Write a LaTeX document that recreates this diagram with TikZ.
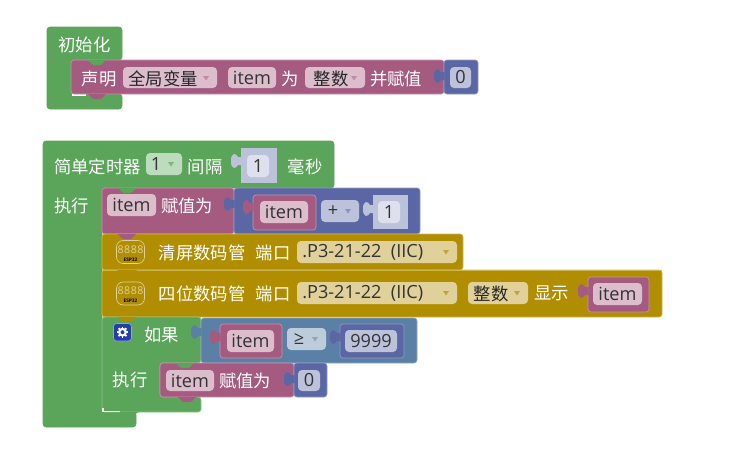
\documentclass[tikz,border=0pt]{standalone}
\usepackage{fontspec}
\setmainfont{Noto Sans CJK SC}
\newfontfamily\lat{Open Sans}
\definecolor{gr}{HTML}{5BA55B}
\definecolor{grL}{HTML}{8CC08C}
\definecolor{grF}{HTML}{BDDBBD}
\definecolor{pu}{HTML}{A55B80}
\definecolor{puL}{HTML}{C98FAC}
\definecolor{puF}{HTML}{DBBDCC}
\definecolor{bl}{HTML}{5B67A5}
\definecolor{blL}{HTML}{8F98C4}
\definecolor{blF}{HTML}{BDC2DB}
\definecolor{blG}{HTML}{DEE1ED}
\definecolor{lg}{HTML}{5B80A5}
\definecolor{lgL}{HTML}{8FA8C4}
\definecolor{lgF}{HTML}{BDCCDB}
\definecolor{go}{HTML}{B18E00}
\definecolor{goL}{HTML}{CDB54D}
\definecolor{goF}{HTML}{DFD199}
\definecolor{gearbg}{HTML}{2440A8}
\tikzset{
  x=0.75pt,y=-0.75pt,
  blk/.style={rounded corners=2.2pt},
  fldbox/.style={rounded corners=3pt},
  wt/.style={text=white,inner sep=0pt,yshift=-.6pt,font=\fontsize{13}{15}\selectfont},
  bk/.style={text=black!85,inner sep=0pt,yshift=-.6pt,font=\fontsize{13}{15}\selectfont},
  lt/.style={text=black!80,inner sep=0pt,font=\lat\fontsize{13.6}{15}\selectfont},
}
% statement notch: x, y, colour
\newcommand{\notch}[3]{\fill[#3] (#1,#2) .. controls (#1+3,#2) and (#1+4,#2+5) .. (#1+7,#2+5) -- (#1+13,#2+5) .. controls (#1+16,#2+5) and (#1+17,#2) .. (#1+20,#2) -- cycle;}
% value socket: x edge, top y, colour
\newcommand{\sock}[3]{\fill[#3] (#1+.5,#2+4) -- (#1-3,#2+4) .. controls (#1-5,#2) and (#1-10,#2-1) .. (#1-10,#2+8) .. controls (#1-10,#2+17) and (#1-5,#2+16) .. (#1-3,#2+12) -- (#1+.5,#2+12) -- cycle;}
% rectangle block: x1,y1,x2,y2,fill,edge
\newcommand{\rb}[6]{\draw[blk,fill=#5,draw=#6,line width=.5pt] (#1,#2) rectangle (#3,#4);}
% field: name,x1,y1,x2,y2,fill
\newcommand{\fb}[6]{\fill[fldbox,#6] (#2,#3) rectangle (#4,#5); \coordinate (#1) at ({(#2+#4)/2},{(#3+#5)/2});}
% dropdown arrow: x,y,colour
\newcommand{\arw}[3]{\fill[#3] (#1-3,#2-2) -- (#1+3,#2-2) -- (#1,#2+2.5) -- cycle;}
% esp32 display icon: name,cx,cy
\newcommand{\esp}[3]{%
  \draw[rounded corners=5pt,draw=goF,line width=.5pt,fill=go] (#2-14,#3-11.5) rectangle (#2+14,#3+11.5);
  \node[inner sep=0pt,text=goF,font=\lat\fontsize{8}{9}\selectfont] (#1d) at (#2,#3-2.5) {8\kern.4pt8\kern.4pt8\kern.4pt8};
  \node[inner sep=0pt,text=black,font=\lat\bfseries\fontsize{3.6}{4}\selectfont] (#1e) at (#2,#3+7.5) {ESP32};}
\begin{document}
\begin{tikzpicture}
\useasboundingbox (0,0) rectangle (743,475);
\fill[white] (0,0) rectangle (743,475);

% ---------- init block
\draw[blk,fill=gr,draw=gr] (47,27) -- (122,27) -- (122,60) -- (71,60) -- (71,94) -- (122,94) -- (122,109) -- (47,109) -- cycle;
\node[wt] (t1) at (84.5,44) {初始化};
\draw[white,line width=.9pt] (71.5,95) -- (86,95);
\rb{71}{60}{444}{94}{pu}{puL}
\rb{444}{60}{478}{94}{bl}{blL}
\notch{87}{60}{gr}
\notch{87}{94}{pu}
\sock{444}{68}{bl}
\fb{f1}{123}{67}{217}{88}{puF}
\fb{f2}{228}{67}{276}{88}{puF}
\fb{f3}{305}{67}{365}{88}{puF}
\fb{f4}{450}{67}{471}{88}{blF}
\arw{206}{78}{pu!70}
\arw{354}{78}{pu!70}
\node[wt] (t2) at (99,78) {声明};
\node[bk] (t3) at (163,78) {全局变量};
\node[lt] (t4) at (f2) {item};
\node[wt] (t5) at (290,78) {为};
\node[bk] (t6) at (331,78) {整数};
\node[wt] (t7) at (396,78) {并赋值};
\node[lt] (t8) at (f4) {0};

% ---------- timer block
\draw[blk,fill=gr,draw=gr] (43,141) -- (334,141) -- (334,188) -- (102,188) -- (102,412) -- (136,412) -- (136,427) -- (43,427) -- cycle;
\node[wt] (a1) at (97.5,166) {简单定时器};
\fb{a2}{146}{153}{182}{175}{grF}
\arw{171}{164}{gr!80}
\node[lt] (a3) at (156,164.5) {1};
\node[wt] (a4) at (205,166) {间隔};
\fill[blF] (241,148) rectangle (277,183);
\sock{241}{153}{blF}
\fb{a5}{247}{155}{269}{177}{blG}
\node[lt] (a6) at (a5) {1};
\node[wt] (a7) at (305,166) {毫秒};
\node[wt] (a8) at (72,205) {执行};

% assignment
\rb{102}{188}{234}{234}{pu}{puL}
\rb{234}{188}{420}{234}{bl}{blL}
\notch{117}{188}{gr}
\sock{234}{196}{bl}
\fb{b1}{107}{194}{156}{216}{puF}
\node[lt] (b2) at (b1) {item};
\node[wt] (b3) at (187,205) {赋值为};
\rb{253}{195}{316}{230}{pu}{puL}
\sock{253}{199}{pu}
\fb{b4}{260}{201}{308}{223}{puF}
\node[lt] (b5) at (b4) {item};
\fb{b6}{321}{200}{359}{222}{blF}
\node[lt] (b7) at (333,211) {+};
\arw{348}{211}{bl!70}
\fill[blF] (373,195) rectangle (408,229);
\sock{373}{201}{blF}
\fb{b8}{378}{201}{400}{223}{blG}
\node[lt] (b9) at (b8) {1};

% clear display
\rb{102}{234}{463}{270}{go}{goL}
\notch{117}{234}{pu}
\esp{c0}{130.5}{252}
\node[wt] (c1) at (202,252) {清屏数码管};
\node[wt] (c2) at (273,252) {端口};
\fb{c3}{297}{241}{457}{263}{goF}
\node[lt,anchor=west] (c4) at (302,252) {.P3-21-22 \ (IIC)};
\arw{446}{252}{go!80}

% show display
\rb{102}{270}{662}{317}{go}{goL}
\notch{117}{270}{go}
\draw[goL,line width=.5pt] (102,270) -- (117,270) (137,270) -- (662,270);
\esp{d0}{130.5}{293.5}
\node[wt] (d1) at (202,293.5) {四位数码管};
\node[wt] (d2) at (273,293.5) {端口};
\fb{d3}{297}{282}{457}{304}{goF}
\node[lt,anchor=west] (d4) at (302,293) {.P3-21-22 \ (IIC)};
\arw{446}{293}{go!80}
\fb{d5}{468}{282}{528}{304}{goF}
\node[bk] (d6) at (491,293) {整数};
\arw{517}{293}{go!80}
\node[wt] (d7) at (551.5,293) {显示};
\rb{588}{277}{649}{312}{pu}{puL}
\sock{588}{283}{pu}
\fb{d8}{593}{283}{642}{305}{puF}
\node[lt] (d9) at (d8) {item};

% if block
\draw[blk,fill=gr,draw=grL,line width=.5pt] (102,317) -- (201,317) -- (201,363) -- (160,363) -- (160,397) -- (201,397) -- (201,412) -- (102,412) -- cycle;
\notch{117}{317}{go}
\draw[white,line width=.8pt] (103,408) -- (103,411.5) -- (120,411.5);
\notch{119}{412}{gr}
\rb{201}{318}{417}{363}{lg}{lgL}
\sock{201}{324}{lg}
% gear icon
\draw[rounded corners=2.5pt,fill=gearbg,draw=blue!40!white,line width=.4pt] (113.5,323.5) rectangle (131.5,341);
\foreach \ang in {0,45,...,315}{\draw[white,line width=1.3pt] (122.5,332.2) -- ++(\ang:5.6);}
\fill[white] (122.5,332.2) circle (4.4);
\fill[gearbg] (122.5,332.2) circle (2);
\node[wt] (e1) at (161.5,334) {如果};
\node[wt] (e2) at (130,379) {执行};
\rb{220}{324}{282}{358}{pu}{puL}
\sock{220}{329}{pu}
\fb{e3}{227}{330}{274}{352}{puF}
\node[lt] (e4) at (e3) {item};
\fb{e5}{287}{328}{326}{350}{lgF}
\node[lt] (e6) at (299,339) {≥};
\arw{315}{339}{lg!70}
\rb{340}{324}{404}{358}{bl}{blL}
\sock{340}{329}{bl}
\fb{e7}{345}{330}{397}{352}{blF}
\node[lt] (e8) at (e7) {9999};

% inner assign
\rb{160}{363}{294}{397}{pu}{puL}
\rb{294}{363}{327}{397}{bl}{blL}
\notch{175}{363}{gr}
\notch{177}{397}{pu}
\sock{294}{371}{bl}
\fb{g1}{166}{370}{214}{391}{puF}
\node[lt] (g2) at (g1) {item};
\node[wt] (g3) at (245,380) {赋值为};
\fb{g4}{298}{370}{320}{391}{blF}
\node[lt] (g5) at (g4) {0};
\end{tikzpicture}
\end{document}
